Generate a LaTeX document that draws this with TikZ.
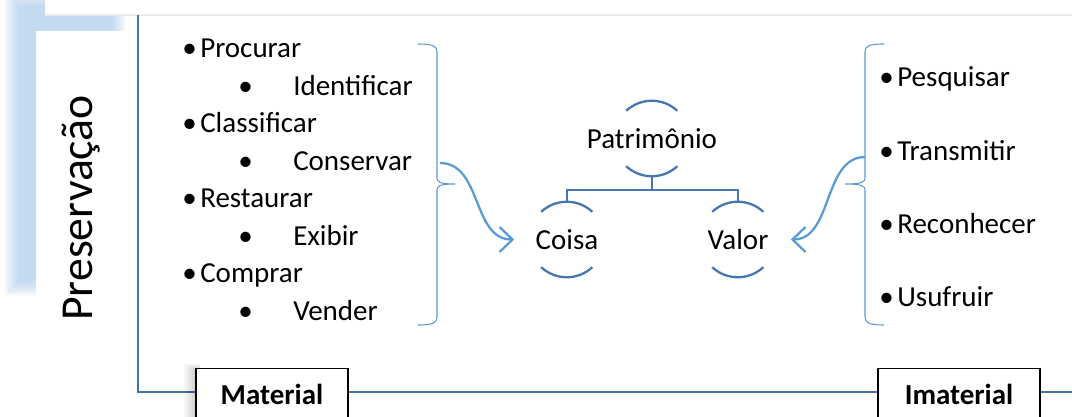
\documentclass[tikz,border=0pt]{standalone}
\usepackage{fontspec}
\setmainfont{Carlito}
\usetikzlibrary{positioning,arrows.meta}
\definecolor{braceblue}{RGB}{91,155,213}
\definecolor{treeblue}{RGB}{70,120,175}
\definecolor{frameblue}{RGB}{70,114,170}
\definecolor{shadowblue}{RGB}{150,190,228}
\newcommand{\itemsize}{\fontsize{16.5}{20}\selectfont}

\begin{document}
\begin{tikzpicture}[x=0.02cm, y=0.02cm,
        item/.style={anchor=base west, inner sep=0pt, font=\itemsize},
        part/.style={circle, minimum size=1.5cm, inner sep=0pt, font=\itemsize},
        box/.style={draw=black, line width=1pt, fill=white, minimum height=1.02cm,
                    inner sep=0pt, font=\bfseries\itemsize},
        brace/.style={draw=braceblue, line width=0.6pt},
        link/.style={draw=braceblue, line width=1.3pt,
                     -{Straight Barb[length=2.6mm, width=5mm]}},
        tree/.style={draw=treeblue, line width=1.3pt},
    ]
    \clip (0,0) rectangle (1072,416);

    % side label with its soft shadow
    \foreach \d in {0,...,15}
        \fill[shadowblue, opacity=0.05] (4+\d,120+\d) rectangle (126-\d,425-\d);
    \fill[white] (45,401) rectangle (1072,416);
    \draw[gray!15, line width=0.6pt] (45,401) -- (1072,401);
    \fill[white] (36,81) rectangle (128,385);
    \node[rotate=90, anchor=base, inner sep=0pt, font=\fontsize{26}{30}\selectfont] (pres) at (92,208) {Preservação};

    % frame
    \coordinate (ftop) at (138,401);
    \coordinate (fcorner) at (138,24);
    \coordinate (fend) at (1072,24);
    \draw[frameblue, line width=1.4pt] (ftop) -- (fcorner) -- (fend);

    \foreach \d in {0,...,5}
        \fill[black, opacity=0.03] (184+2*\d,-5) rectangle (200,52-\d);
    \node[box, minimum width=3.04cm] (mat) at (272,22) {Material};
    \node[box, minimum width=3.24cm] (imat) at (959,22) {Imaterial};

    % material list
    \node[item] (proc) at (182,358) {\textbullet\hspace{2pt}Procurar};
    \node[item] (ident) at (238,320.5) {\textbullet\hspace{0.81cm}Identificar};
    \node[item] (class) at (182,283) {\textbullet\hspace{2pt}Classificar};
    \node[item] (cons) at (238,245.5) {\textbullet\hspace{0.81cm}Conservar};
    \node[item] (rest) at (182,208) {\textbullet\hspace{2pt}Restaurar};
    \node[item] (exib) at (238,170.5) {\textbullet\hspace{0.81cm}Exibir};
    \node[item] (comp) at (182,133) {\textbullet\hspace{2pt}Comprar};
    \node[item] (vend) at (238,95.5) {\textbullet\hspace{0.81cm}Vender};

    % immaterial list
    \node[item] (pesq) at (879,329) {\textbullet\hspace{2pt}Pesquisar};
    \node[item] (trans) at (879,255) {\textbullet\hspace{2pt}Transmitir};
    \node[item] (recon) at (879,182) {\textbullet\hspace{2pt}Reconhecer};
    \node[item] (usuf) at (879,109) {\textbullet\hspace{2pt}Usufruir};

    % braces
    \draw[brace] (418,372) .. controls (433,372) and (437,370) .. (437,364) -- (437,238)
        .. controls (437,234) and (440,232) .. (455,232)
        .. controls (440,232) and (437,230) .. (437,226) -- (437,99)
        .. controls (437,93) and (433,91) .. (418,91);
    \draw[brace] (884,372) .. controls (869,372) and (865,370) .. (865,364) -- (865,238)
        .. controls (865,234) and (862,232) .. (845,232)
        .. controls (862,232) and (865,230) .. (865,226) -- (865,99)
        .. controls (865,93) and (869,91) .. (884,91);
    \coordinate (lbr) at (440,253);
    \coordinate (rbr) at (865,259);

    % hierarchy
    \node[part] (pat) at (652,277.5) {\makebox[0pt]{Patrimônio}};
    \node[part] (coisa) at (567,176.5) {\makebox[0pt]{Coisa}};
    \node[part] (valor) at (738,176.5) {\makebox[0pt]{Valor}};
    \foreach \n in {pat,coisa,valor} {
        \draw[tree] (\n.133) arc[start angle=133, end angle=47, radius=0.75cm];
        \draw[tree] (\n.-133) arc[start angle=-133, end angle=-47, radius=0.75cm];
    }
    \draw[tree] (pat.south) -- ++(0,-14) -| (coisa.north);
    \draw[tree] (pat.south) -- ++(0,-14) -| (valor.north);

    \draw[link] (lbr) .. controls +(42,0) and +(-42,0) .. ([xshift=-0.3cm]coisa.west);
    \draw[link] (rbr) .. controls +(-42,0) and +(42,0) .. ([xshift=0.3cm]valor.east);
\end{tikzpicture}
\end{document}
